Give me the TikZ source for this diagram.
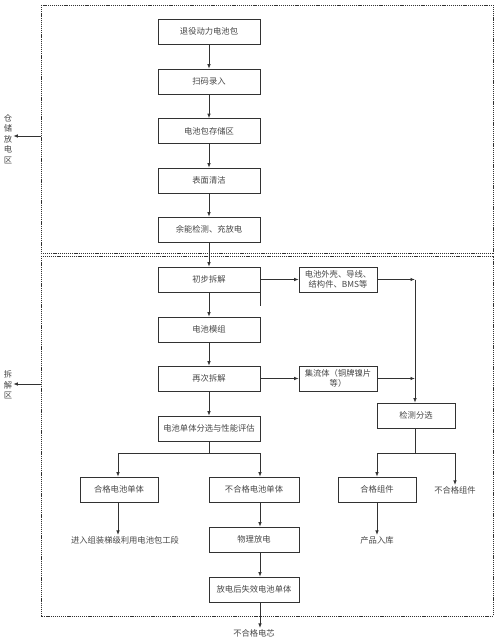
\documentclass[tikz,border=0pt]{standalone}
\usepackage{fontspec}
\setmainfont{Noto Sans CJK SC}
\usetikzlibrary{arrows.meta}
\definecolor{ln}{RGB}{50,50,50}
\definecolor{tx}{RGB}{70,70,70}
\tikzset{
  bx/.style={draw=ln, line width=0.7pt, minimum height=25pt, inner sep=1pt, text=tx, font=\fontsize{8.3}{9.5}\selectfont, align=center},
  lbl/.style={text=tx, font=\fontsize{8.3}{9.5}\selectfont, inner sep=1pt, align=center},
  ar/.style={draw=ln, line width=0.8pt, -{Latex[length=4.5pt,width=3.5pt]}},
  ln/.style={draw=ln, line width=0.8pt},
  zone/.style={draw=ln, line width=0.8pt, dash pattern=on 1.2pt off 0.9pt}
}
\begin{document}
\begin{tikzpicture}[x=1pt,y=-1pt]
\useasboundingbox (0,0) rectangle (500,642);
% zones
\draw[zone] (41,5) rectangle (493,253);
\draw[zone] (41,256) rectangle (493,616);
\node[lbl] (zl1) at (8,139) {仓\\[1pt]储\\[1pt]放\\[1pt]电\\[1pt]区};
\node[lbl] (zl2) at (8,385) {拆\\[1pt]解\\[1pt]区};
\coordinate (za) at (41,136);
\coordinate (zb) at (41,384);
\draw[ar] (za) -- (zl1.east |- za);
\draw[ar] (zb) -- (zl2.east |- zb);
% main column
\node[bx, minimum width=102pt] (n1) at (209,31.5) {退役动力电池包};
\node[bx, minimum width=102pt] (n2) at (209,81.5) {扫码录入};
\node[bx, minimum width=102pt] (n3) at (209,131) {电池包存储区};
\node[bx, minimum width=102pt] (n4) at (209,180.5) {表面清洁};
\node[bx, minimum width=102pt] (n5) at (209,229.5) {余能检测、充放电};
\node[bx, minimum width=102pt] (d1) at (209,279.5) {初步拆解};
\node[bx, minimum width=102pt] (d2) at (209,329.5) {电池模组};
\node[bx, minimum width=102pt] (d3) at (209,378.5) {再次拆解};
\node[bx, minimum width=102pt] (d4) at (209,428.5) {电池单体分选与性能评估};
\draw[ar] (n1) -- (n2);
\draw[ar] (n2) -- (n3);
\draw[ar] (n3) -- (n4);
\draw[ar] (n4) -- (n5);
\draw[ar] (n5) -- (d1);
\draw[ar] (d1) -- (d2);
\draw[ar] (d2) -- (d3);
\draw[ar] (d3) -- (d4);
\draw[ln] (d1.south east) -- ++(0,14);
% right side
\node[bx, minimum width=78pt, inner sep=0.5pt] (r1) at (338,279.5) {电池外壳、导线、\\结构件、BMS等};
\node[bx, minimum width=78pt, inner sep=0.5pt] (r2) at (338,378.5) {集流体（铜牌镍片\\等）};
\node[bx, minimum width=78pt] (det) at (416,415.5) {检测分选};
\draw[ar] (d1) -- (r1);
\draw[ar] (d3) -- (r2);
\coordinate (j1) at (415,279.5);
\coordinate (j2) at (415,378.5);
\draw[ar] (r1) -- (j1);
\draw[ar] (r2) -- (j2);
\draw[ar] (j1) -- (j1 |- det.north);
% bottom left branch
\coordinate (b0) at (209,453);
\coordinate (bl) at (118,453);
\coordinate (br) at (260,453);
\node[bx, minimum width=78pt] (q1) at (119,489.5) {合格电池单体};
\node[bx, minimum width=90pt] (q2) at (254,489.5) {不合格电池单体};
\node[bx, minimum width=90pt] (q3) at (254,539.5) {物理放电};
\node[bx, minimum width=90pt] (q4) at (254,589.5) {放电后失效电池单体};
\node[lbl] (t1) at (125,540) {进入组装梯级利用电池包工段};
\node[lbl] (t3) at (254,633) {不合格电芯};
\draw[ln] (d4.south) -- (b0);
\draw[ln] (bl) -- (br);
\draw[ar] (bl) -- (bl |- q1.north);
\draw[ar] (br) -- (br |- q2.north);
\draw[ar] (q1.south -| bl) -- (bl |- t1.north);
\draw[ar] (q2.south -| br) -- (br |- q3.north);
\draw[ar] (q3.south -| br) -- (br |- q4.north);
\draw[ar] (q4.south -| br) -- (br |- t3.north);
% bottom right branch
\coordinate (c0) at (415,453);
\coordinate (cl) at (377,453);
\coordinate (cr) at (455,453);
\node[bx, minimum width=78pt] (g1) at (377,489.5) {合格组件};
\node[lbl] (g2) at (455,490) {不合格组件};
\node[lbl] (t2) at (377,540) {产品入库};
\draw[ln] (det.south -| c0) -- (c0);
\draw[ln] (cl) -- (cr);
\draw[ar] (cl) -- (g1.north);
\draw[ar] (cr) -- (g2.north);
\draw[ar] (g1.south) -- (t2.north);
\end{tikzpicture}
\end{document}
